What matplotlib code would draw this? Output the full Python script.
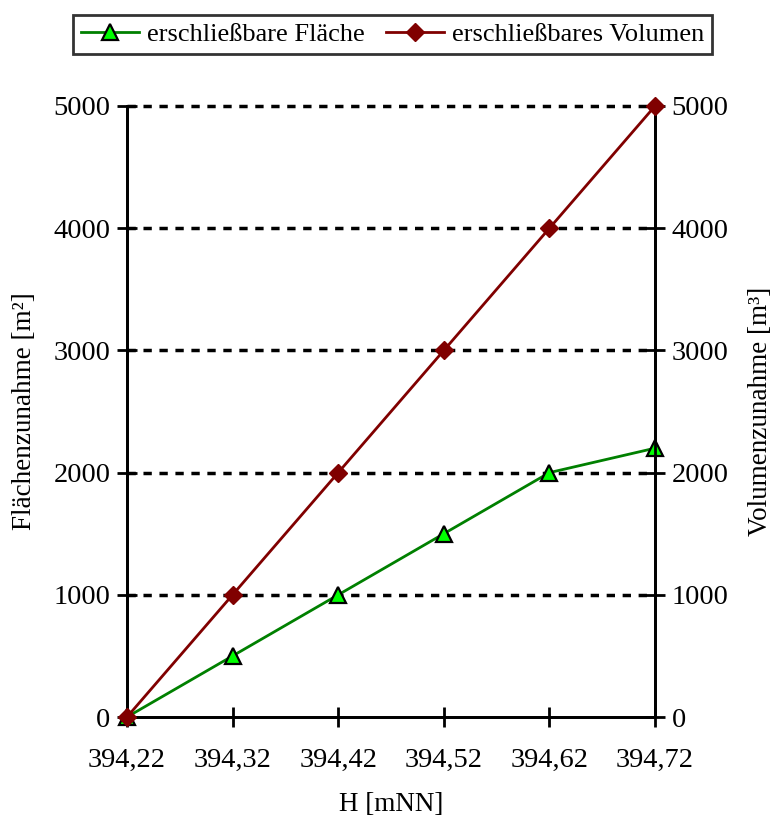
import matplotlib.pyplot as plt
from matplotlib.lines import Line2D

plt.rcParams['font.family'] = ['Liberation Serif', 'DejaVu Serif']

hoehen = ['394,22', '394,32', '394,42', '394,52', '394,62', '394,72']
flaeche = [0, 500, 1000, 1500, 2000, 2200]
volumen = [0, 1000, 2000, 3000, 4000, 5000]
yticks = [0, 1000, 2000, 3000, 4000, 5000]

fig = plt.figure(figsize=(7.73, 8.16), dpi=100)
ax = fig.add_axes([0.1643, 0.1213, 0.6831, 0.7488])
ax2 = ax.twinx()

x = list(range(len(hoehen)))

ax.set_xlim(0, len(hoehen) - 1)
ax.set_ylim(0, 5000)
ax2.set_ylim(0, 5000)

for y in yticks[1:]:
    ax.axhline(y, color='black', lw=2.5, ls=(0, (2.4, 2.2)), zorder=1, clip_on=False)

ax.plot(x, flaeche, color='#008000', lw=2, marker='^', ms=11,
        markerfacecolor='#00ff00', markeredgecolor='black', markeredgewidth=1.6,
        zorder=3, clip_on=False)
ax2.plot(x, volumen, color='#800000', lw=2, marker='D', ms=9.5,
         markerfacecolor='#800000', markeredgecolor='#800000',
         zorder=3, clip_on=False)

for a in (ax, ax2):
    a.spines['top'].set_visible(False)
    for s in a.spines.values():
        s.set_linewidth(2)

ax.set_xticks(x)
ax.set_xticklabels(hoehen)
ax.set_yticks(yticks)
ax2.set_yticks(yticks)

ax.tick_params(axis='y', direction='inout', length=14, width=2, labelsize=20.5, pad=5)
ax.tick_params(axis='x', direction='inout', length=14, width=2, labelsize=20.5, pad=15)
ax2.tick_params(axis='y', direction='inout', length=14, width=2, labelsize=20.5, pad=5)

ax.set_xlabel('H [mNN]', fontsize=19.5, labelpad=14)
ax.set_ylabel('Flächenzunahme [m²]', fontsize=19.5, labelpad=12)
ax2.set_ylabel('Volumenzunahme [m³]', fontsize=19.5, labelpad=14)

handles = [
    Line2D([], [], color='#008000', lw=2, marker='^', ms=11,
           markerfacecolor='#00ff00', markeredgecolor='black', markeredgewidth=1.6),
    Line2D([], [], color='#800000', lw=2, marker='D', ms=9.5,
           markerfacecolor='#800000', markeredgecolor='#800000'),
]
leg = fig.legend(handles, ['erschließbare Fläche', 'erschließbares Volumen'],
                 loc='center', bbox_to_anchor=(0.508, 0.958), ncol=2,
                 fontsize=19, frameon=True, fancybox=False, edgecolor='black',
                 handlelength=2.2, handletextpad=0.3, columnspacing=0.8,
                 borderpad=0.3)
leg.get_frame().set_linewidth(2)

fig.savefig('out.png', dpi=100)
